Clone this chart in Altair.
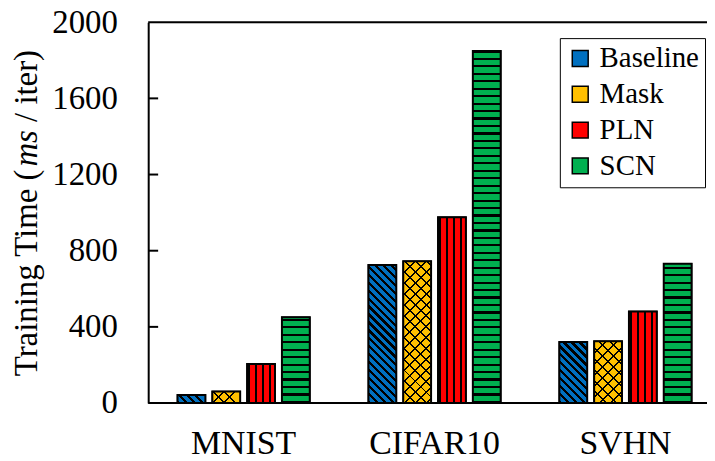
import altair as alt
import pandas as pd

datasets = ["MNIST", "CIFAR10", "SVHN"]
series = ["Baseline", "Mask", "PLN", "SCN"]
baseline = [42, 725, 321]
mask = [61, 745, 324]
pln = [205, 976, 481]
scn = [450, 1849, 731]
colors = ["#0070C0", "#FFC000", "#FF0000", "#00B050"]
y_ticks = [0, 400, 800, 1200, 1600, 2000]
inner_ticks = [400, 800, 1200, 1600]

FONT = "Liberation Serif"
W, H = 562, 383
XR = 576
BAR_W = 28
PPU = H / 2000.0
FS = 33

values = {"Baseline": baseline, "Mask": mask, "PLN": pln, "SCN": scn}
rows = []
for s in series:
    for d, v in zip(datasets, values[s]):
        rows.append({"dataset": d, "series": s, "value": v})
df = pd.DataFrame(rows)

xenc = alt.X("dataset:N", sort=datasets,
             scale=alt.Scale(domain=datasets, range=[0, XR], paddingInner=0, paddingOuter=0),
             axis=alt.Axis(title=None, labelAngle=0, ticks=False, domain=False,
                           labelFont=FONT, labelFontSize=34, labelColor="black",
                           labelPadding=24))
xoff = alt.XOffset("series:N", sort=series,
                   scale=alt.Scale(domain=series, paddingInner=0.2, paddingOuter=0.8429))
yenc = alt.Y("value:Q", scale=alt.Scale(domain=[0, 2000], nice=False),
             axis=alt.Axis(title=None, values=y_ticks, ticks=False, grid=False, format="d",
                           domainColor="black", domainWidth=2,
                           labelFont=FONT, labelFontSize=33, labelColor="black",
                           labelPadding=31))


def stops_for(bg, fg, period, frac, phase=0.0):
    pts = []
    s = phase - period
    while s < 1:
        a, b, c = s, s + frac * period, s + period
        for o, col in [(a, fg), (b, fg), (b, bg), (c, bg)]:
            pts.append((min(max(o, 0.0), 1.0), col))
        s += period
    return [{"offset": round(o, 5), "color": col} for o, col in pts]


def grad(x1, y1, x2, y2, stops):
    return {"gradient": "linear", "x1": x1, "y1": y1, "x2": x2, "y2": y2, "stops": stops}


base = alt.Chart(df).mark_bar(stroke="black", strokeWidth=1.5).encode(
    x=xenc, xOffset=xoff, y=yenc,
    fill=alt.Fill("series:N", sort=series,
                  scale=alt.Scale(domain=series, range=colors),
                  legend=alt.Legend(title=None, orient="none", legendX=414, legendY=16,
                                    strokeColor="black", padding=6,
                                    labelFont=FONT, labelFontSize=29, labelColor="black",
                                    symbolType="square", symbolSize=256,
                                    symbolStrokeColor="black", symbolStrokeWidth=1.5,
                                    rowPadding=6, labelOffset=5)),
)

layers = [base]

# PLN: vertical stripes
pln_fill = grad(0, 0, 1, 0, stops_for("#FF0000", "black", 7.25 / BAR_W, 2 / 7.25, 0.026))
layers.append(
    alt.Chart(df[df.series == "PLN"]).mark_bar(fill=pln_fill).encode(x=xenc, xOffset=xoff, y=yenc)
)

for d in datasets:
    sub = df[df.dataset == d]
    # SCN: horizontal stripes
    v = float(sub[sub.series == "SCN"].value.iloc[0])
    h = v * PPU
    f = grad(0, 1, 0, 0, stops_for("#00B050", "black", 7.5 / h, 2.2 / 7.5, 0.0))
    layers.append(alt.Chart(sub[sub.series == "SCN"]).mark_bar(fill=f).encode(x=xenc, xOffset=xoff, y=yenc))
    # Baseline: wide downward diagonal
    v = float(sub[sub.series == "Baseline"].value.iloc[0])
    h = v * PPU
    D = BAR_W * BAR_W + h * h
    f = grad(0, 1, 1, 1 - h / BAR_W, stops_for("#0070C0", "black", BAR_W * 8 / D, 0.4, 0.0))
    layers.append(alt.Chart(sub[sub.series == "Baseline"]).mark_bar(fill=f).encode(x=xenc, xOffset=xoff, y=yenc))
    # Mask: diagonal crosshatch
    v = float(sub[sub.series == "Mask"].value.iloc[0])
    h = v * PPU
    D = BAR_W * BAR_W + h * h
    f1 = grad(0, 1, 1, 1 - h / BAR_W, stops_for("#FFC000", "black", BAR_W * 11 / D, 0.18, 0.0))
    f2 = grad(0, 0, 1, h / BAR_W, stops_for("rgba(0,0,0,0)", "black", BAR_W * 11 / D, 0.18, 0.0))
    layers.append(alt.Chart(sub[sub.series == "Mask"]).mark_bar(fill=f1).encode(x=xenc, xOffset=xoff, y=yenc))
    layers.append(alt.Chart(sub[sub.series == "Mask"]).mark_bar(fill=f2).encode(x=xenc, xOffset=xoff, y=yenc))

outline = alt.Chart(df).mark_bar(fillOpacity=0, stroke="black", strokeWidth=2).encode(
    x=xenc, xOffset=xoff, y=yenc)
layers.append(outline)

# frame lines (top and bottom) and inward ticks
frame = alt.Chart(pd.DataFrame({"value": [0, 2000]})).mark_rule(color="black", strokeWidth=2).encode(
    y=yenc, x=alt.value(0), x2=alt.value(W + 10))
ticks = alt.Chart(pd.DataFrame({"value": inner_ticks})).mark_rule(color="black", strokeWidth=2).encode(
    y=yenc, x=alt.value(0), x2=alt.value(10))
layers += [frame, ticks]

# y-axis title with italic "ms"
W1 = 6.388 * FS   # "Training Time ("
W2 = 1.111 * FS   # "ms" italic
SP = 0.25 * FS    # space
Y0 = 356
one = pd.DataFrame({"k": [0]})
t1 = alt.Chart(one).mark_text(text="Training Time (", font=FONT, fontSize=FS, angle=270,
                              align="left", baseline="alphabetic", color="black").encode(
    x=alt.value(-112), y=alt.value(Y0))
t2 = alt.Chart(one).mark_text(text="ms", font=FONT, fontSize=FS, fontStyle="italic", angle=270,
                              align="left", baseline="alphabetic", color="black").encode(
    x=alt.value(-112), y=alt.value(Y0 - W1))
t3 = alt.Chart(one).mark_text(text="/ iter)", font=FONT, fontSize=FS, angle=270,
                              align="left", baseline="alphabetic", color="black").encode(
    x=alt.value(-112), y=alt.value(Y0 - W1 - W2 - SP))
layers += [t1, t2, t3]

chart = alt.layer(*layers).properties(
    width=W, height=H,
    autosize=alt.AutoSizeParams(type="none"),
    padding={"left": 141, "top": 13, "right": 0, "bottom": 57},
).configure_view(stroke=None).configure(background="white")

chart.save("out.html", embed_options={"renderer": "svg", "actions": False})
